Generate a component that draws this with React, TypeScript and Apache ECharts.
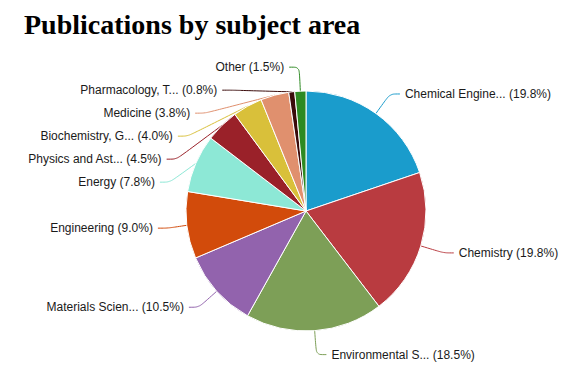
import React, { useEffect, useRef } from "react";
import * as echarts from "echarts";

const titleText = "Publications by subject area";
const categories = [
  "Chemical Engine...",
  "Chemistry",
  "Environmental S...",
  "Materials Scien...",
  "Engineering",
  "Energy",
  "Physics and Ast...",
  "Biochemistry, G...",
  "Medicine",
  "Pharmacology, T...",
  "Other",
];
const shares = [19.8, 19.8, 18.5, 10.5, 9.0, 7.8, 4.5, 4.0, 3.8, 0.8, 1.5];
const colors = [
  "#1a9ccc",
  "#b93b40",
  "#7d9f57",
  "#9263ad",
  "#d24b0b",
  "#8de8d6",
  "#9a2129",
  "#d9c03a",
  "#e0906e",
  "#3a0a0a",
  "#2d8a22",
];

export default function App() {
  const ref = useRef<HTMLDivElement>(null);
  useEffect(() => {
    document.body.style.margin = "0";
    const chart = echarts.init(ref.current!, null, { renderer: "svg" });
    chart.setOption({
      animation: false,
      title: {
        text: titleText,
        left: 19,
        top: 5,
        textStyle: {
          fontFamily: "Liberation Serif",
          fontWeight: "bold",
          fontSize: 28,
          color: "#000",
        },
      },
      series: [
        {
          type: "pie",
          center: [306, 211],
          radius: 120,
          startAngle: 90,
          clockwise: true,
          data: categories.map((c, i) => ({
            name: c,
            value: shares[i],
            itemStyle: { color: colors[i] },
            labelLine: { lineStyle: { color: colors[i] } },
          })),
          itemStyle: { borderColor: "#fff", borderWidth: 1 },
          label: {
            formatter: (p: any) => `${p.name} (${p.value.toFixed(1)}%)`,
            fontFamily: "Liberation Sans",
            fontSize: 12,
            color: "#1a1a1a",
            lineHeight: 21,
          },
          labelLine: { length: 24, length2: 10, smooth: 0.3, lineStyle: { width: 1 } },
          emphasis: { disabled: true },
        },
      ],
    });
    return () => chart.dispose();
  }, []);
  return <div ref={ref} style={{ width: 582, height: 388 }} />;
}
